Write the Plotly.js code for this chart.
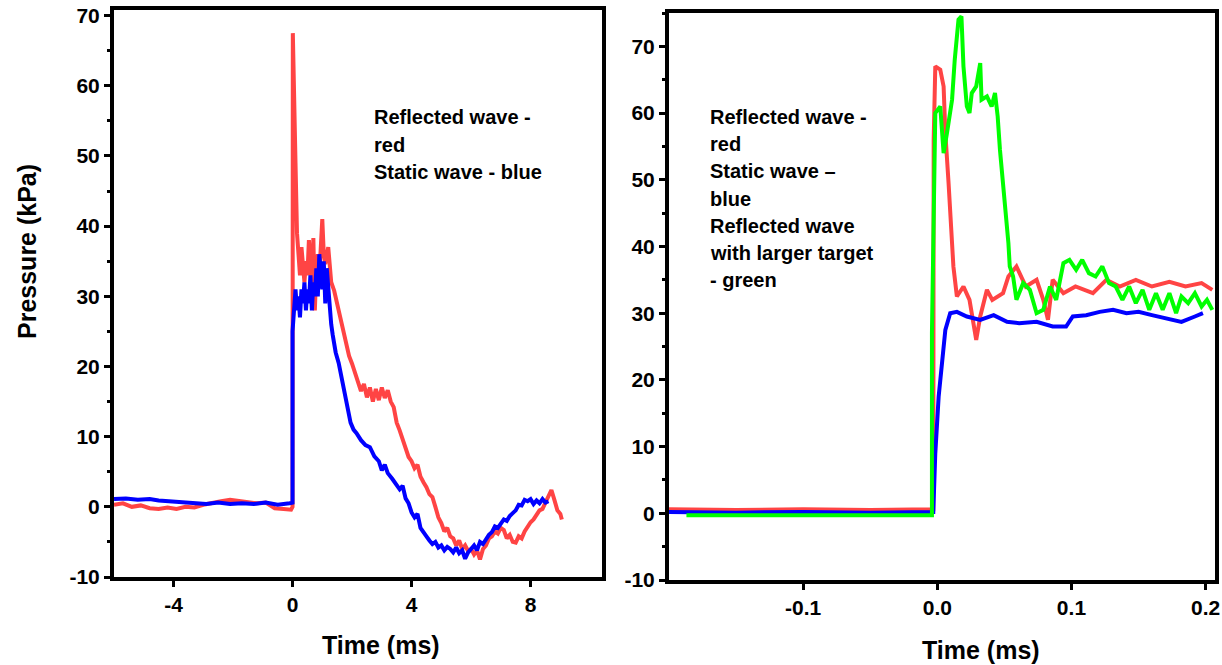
<!DOCTYPE html>
<html>
<head>
<meta charset="utf-8">
<script src="https://cdn.plot.ly/plotly-3.0.1.min.js"></script>
<style>html,body{margin:0;padding:0;background:#fff;}#chart{width:1222px;height:665px;}</style>
</head>
<body>
<div id="chart"></div>
<script>
// ---- Left panel: Time (ms) vs Pressure (kPa) ----
const leftRedX = [-6.0,-5.7,-5.4,-5.1,-4.8,-4.5,-4.2,-3.9,-3.6,-3.3,-3.0,-2.7,-2.4,-2.1,-1.8,-1.5,-1.2,-0.9,-0.6,-0.3,-0.05,
  0.0,0.01,0.1,0.15,0.2,0.25,0.3,0.35,0.4,0.45,0.5,0.55,0.6,0.65,0.7,0.75,0.8,0.85,0.9,0.95,1.0,1.05,1.1,1.2,1.3,1.4,1.5,1.6,1.7,1.8,1.9,
  2.0,2.1,2.2,2.3,2.4,2.5,2.6,2.7,2.8,2.9,3.0,3.1,3.2,3.3,3.4,3.5,3.6,3.7,3.8,3.9,4.0,4.1,4.2,4.3,4.4,4.5,4.6,4.7,4.8,4.9,
  5.0,5.1,5.2,5.3,5.4,5.5,5.6,5.7,5.8,5.9,6.0,6.1,6.2,6.3,6.4,6.5,6.6,6.7,6.8,6.9,7.0,7.1,7.2,7.3,7.4,7.5,7.6,7.7,7.8,7.9,
  8.0,8.1,8.2,8.3,8.4,8.5,8.6,8.7,8.8,8.9,9.0,9.05];
const leftRedY = [0.3,0.5,0.0,0.2,-0.2,-0.3,-0.1,-0.3,0.0,-0.1,0.3,0.6,0.8,1.0,0.8,0.7,0.5,0.6,-0.2,-0.3,-0.4,
  0.0,67.5,49,39,36,33,37,34,32,35,33,38,35,32,38.3,28,34,36,33,38,41,36,34.6,37,32,30.8,29,27,25,23,21.5,
  20.4,19,18,16.5,17.5,15.6,17,15,16.8,15.2,17,15.5,16.6,15,14.2,12,10.9,9.5,8.2,7.1,6.5,5.5,6.0,4.3,3.5,2.8,1.8,1.4,0.0,-1.5,
  -2.3,-3.5,-3.0,-4.2,-4.5,-5.5,-4.8,-6.0,-5.5,-6.3,-6.0,-6.8,-6.2,-7.5,-6.0,-5.5,-4.5,-4.2,-3.5,-3.8,-3.0,-3.3,-4.5,-4.0,-5.0,-5.1,-4.2,-4.5,-3.5,-2.8,
  -2.2,-1.8,-1.0,-0.5,-0.3,0.5,1.5,2.4,1.0,-0.5,-1.0,-1.8];

const leftBlueX = [-6.0,-5.6,-5.2,-4.8,-4.5,-4.1,-3.7,-3.3,-2.9,-2.5,-2.1,-1.7,-1.3,-0.9,-0.5,-0.1,0.0,
  0.0,0.05,0.1,0.15,0.2,0.25,0.3,0.35,0.4,0.45,0.5,0.55,0.6,0.65,0.7,0.75,0.8,0.85,0.9,0.95,1.0,1.05,1.1,1.15,1.2,1.25,1.3,1.35,
  1.45,1.55,1.65,1.75,1.85,1.95,2.05,2.15,2.3,2.45,2.6,2.75,2.9,3.0,3.1,3.2,3.35,3.5,3.6,3.7,3.8,3.9,4.0,4.1,4.2,4.3,4.4,4.5,
  4.6,4.7,4.8,4.9,5.0,5.1,5.2,5.3,5.4,5.5,5.6,5.7,5.8,5.9,6.0,6.1,6.2,6.3,6.4,6.5,6.6,6.7,6.8,6.9,7.0,7.1,7.2,7.3,7.4,7.5,
  7.6,7.7,7.8,7.9,8.0,8.1,8.2,8.3,8.4,8.5,8.6];
const leftBlueY = [1.1,1.2,1.0,1.1,0.9,0.8,0.7,0.5,0.4,0.6,0.4,0.5,0.4,0.6,0.3,0.5,0.6,
  25,29,31,28,30,27,31,29,32,28,31,29,33,28,32,30,34,30,36,33,31,35,29,34,31,28,26,24.5,
  22,20.5,18.5,16,14.5,12,11,10.5,9.5,8.8,8.5,7.2,6.5,5.2,6.0,4.8,4.0,3.2,2.5,3.0,1.2,0.5,-0.8,-1.5,-1.0,-3.0,-3.5,-4.2,
  -4.8,-5.3,-5.0,-5.8,-5.5,-6.2,-5.7,-6.0,-6.5,-5.8,-6.6,-6.2,-7.4,-6.5,-6.0,-5.5,-6.2,-5.0,-5.3,-4.5,-4.0,-3.6,-2.8,-3.0,-2.3,-1.8,-2.0,-1.3,-0.9,-0.5,
  0.3,0.2,1.0,0.8,1.1,0.4,0.9,0.5,1.1,0.6,0.8];

// ---- Right panel ----
const rightRedX = [-0.2,-0.15,-0.1,-0.05,-0.003,-0.0027,-0.0027,-0.0015,0.0022,0.0047,0.006,0.0084,0.011,0.012,0.0146,0.0195,0.024,0.029,0.032,
  0.037,0.041,0.049,0.053,0.059,0.066,0.074,0.079,0.0825,0.086,0.094,0.103,0.116,0.126,0.136,0.148,0.160,0.173,0.185,0.197,0.205];
const rightRedY = [0.6,0.5,0.6,0.5,0.6,39.7,56,67,66.5,64,57,49.5,42,37,32.5,34,32,26,29.5,
  33.5,32,33,35.5,37,34,35,32,29,35,33,34,33,35,34,35,34,34.7,34,34.5,33.5];

const rightBlueX = [-0.2,-0.15,-0.1,-0.05,-0.003,-0.0027,-0.0015,0.001,0.0035,0.006,0.0096,0.0146,0.022,0.032,0.042,0.052,0.061,0.074,0.086,
  0.096,0.101,0.111,0.121,0.131,0.141,0.150,0.160,0.170,0.182,0.192,0.198];
const rightBlueY = [0.2,0.1,0.2,0.1,0.2,2,9,17.5,22.5,27.5,30,30.2,29.5,29,29.7,28.7,28.5,28.7,28,
  28,29.5,29.7,30.2,30.5,30,30.2,29.7,29.2,28.7,29.5,30];

const rightGreenX = [-0.187,-0.15,-0.1,-0.05,-0.004,-0.004,-0.0015,0.0022,0.0047,0.0072,0.011,0.013,0.0158,0.018,0.0195,0.022,0.024,0.0257,0.029,
  0.032,0.033,0.037,0.0405,0.043,0.045,0.0467,0.049,0.0516,0.053,0.054,0.0565,0.059,0.064,0.069,0.074,0.079,0.084,0.0886,0.094,0.0985,
  0.1035,0.108,0.113,0.118,0.123,0.128,0.133,0.138,0.143,0.148,0.153,0.158,0.163,0.168,0.173,0.178,0.182,0.187,0.192,0.197,0.201,0.205];
const rightGreenY = [-0.3,-0.3,-0.3,-0.3,-0.3,27,60,61,54,57,62,68,74,74.5,67,61,60,63,64,
  67.5,62,62.5,61,63,59.5,54.5,49.5,43,40.5,37,35.5,32,34.5,33.5,30,30.5,34,32,37.5,38,
  36.5,38,36,35.5,37,34.5,34,32,34,31.5,33.5,30.5,33,30.5,33,30,32.5,31.5,33,31,32,30.5];

const leftXTicks = [-4, 0, 4, 8];
const leftXTickLabels = ["-4", "0", "4", "8"];
const rightXTicks = [-0.1, 0.0, 0.1, 0.2];
const rightXTickLabels = ["-0.1", "0.0", "0.1", "0.2"];
const yTicks = [-10, 0, 10, 20, 30, 40, 50, 60, 70];
const yTickLabels = ["-10", "0", "10", "20", "30", "40", "50", "60", "70"];

const xTitle = "Time (ms)";
const yTitle = "Pressure (kPa)";
const leftNote = ["Reflected wave -", "red", "Static wave - blue"];
const rightNote = ["Reflected wave -", "red", "Static wave \u2013", "blue", "Reflected wave", "with larger target", "- green"];

const RED = "#ff4444", BLUE = "#0000ff", GREEN = "#00ff00";
const FONT = "Liberation Sans, Arial, sans-serif";

const traces = [
  {x: leftRedX, y: leftRedY, xaxis: "x", yaxis: "y", mode: "lines", line: {color: RED, width: 4}, name: "Reflected wave"},
  {x: leftBlueX, y: leftBlueY, xaxis: "x", yaxis: "y", mode: "lines", line: {color: BLUE, width: 4}, name: "Static wave"},
  {x: rightRedX, y: rightRedY, xaxis: "x2", yaxis: "y2", mode: "lines", line: {color: RED, width: 4}, name: "Reflected wave"},
  {x: rightBlueX, y: rightBlueY, xaxis: "x2", yaxis: "y2", mode: "lines", line: {color: BLUE, width: 4}, name: "Static wave"},
  {x: rightGreenX, y: rightGreenY, xaxis: "x2", yaxis: "y2", mode: "lines", line: {color: GREEN, width: 4}, name: "Reflected wave, larger target"}
];

const tickFont = {family: FONT, size: 21, color: "#000", weight: "bold"};
const titleFont = {family: FONT, size: 25, color: "#000", weight: "bold"};
const noteFont = {family: FONT, size: 20, color: "#000", weight: "bold"};
const axisCommon = {
  showline: true, linecolor: "#000", linewidth: 4, mirror: true,
  ticks: "outside", ticklen: 6, tickwidth: 3, tickcolor: "#000",
  showgrid: false, zeroline: false, tickfont: tickFont, automargin: false
};

const annotations = [];
leftNote.forEach((t, i) => annotations.push({
  xref: "paper", yref: "paper", x: 372/1222, y: 1 - (117 + i*27.5)/665, xanchor: "left", yanchor: "middle",
  text: t, showarrow: false, font: noteFont
}));
rightNote.forEach((t, i) => annotations.push({
  xref: "paper", yref: "paper", x: 708/1222, y: 1 - (117 + i*27.2)/665, xanchor: "left", yanchor: "middle",
  text: t, showarrow: false, font: noteFont
}));
// axis titles (placed as in the original figure)
annotations.push({xref: "paper", yref: "paper", x: 381/1222, y: 1 - 645/665, xanchor: "center", yanchor: "middle",
  text: xTitle, showarrow: false, font: titleFont});
annotations.push({xref: "paper", yref: "paper", x: 981/1222, y: 1 - 650/665, xanchor: "center", yanchor: "middle",
  text: xTitle, showarrow: false, font: titleFont});
annotations.push({xref: "paper", yref: "paper", x: 27/1222, y: 1 - 252/665, xanchor: "center", yanchor: "middle",
  text: yTitle, textangle: -90, showarrow: false, font: titleFont});

const layout = {
  width: 1222, height: 665,
  margin: {l: 0, r: 0, t: 0, b: 0},
  paper_bgcolor: "#fff", plot_bgcolor: "#fff",
  showlegend: false,
  xaxis: Object.assign({}, axisCommon, {domain: [114/1222, 602/1222], range: [-6, 10.4], tickvals: leftXTicks, ticktext: leftXTickLabels, anchor: "y"}),
  yaxis: Object.assign({}, axisCommon, {domain: [1 - 577/665, 1 - 10/665], range: [-10, 70.8], tickvals: yTicks, ticktext: yTickLabels, anchor: "x",
    minor: {dtick: 5, ticks: "outside", ticklen: 3, tickwidth: 3, tickcolor: "#000"}}),
  xaxis2: Object.assign({}, axisCommon, {domain: [669/1222, 1215/1222], range: [-0.2, 0.207], tickvals: rightXTicks, ticktext: rightXTickLabels, anchor: "y2"}),
  yaxis2: Object.assign({}, axisCommon, {domain: [1 - 580/665, 1 - 13/665], range: [-10, 75], tickvals: yTicks, ticktext: yTickLabels, anchor: "x2",
    minor: {dtick: 5, ticks: "outside", ticklen: 3, tickwidth: 3, tickcolor: "#000"}}),
  annotations: annotations
};

Plotly.newPlot("chart", traces, layout, {displayModeBar: false, staticPlot: true});
</script>
</body>
</html>
